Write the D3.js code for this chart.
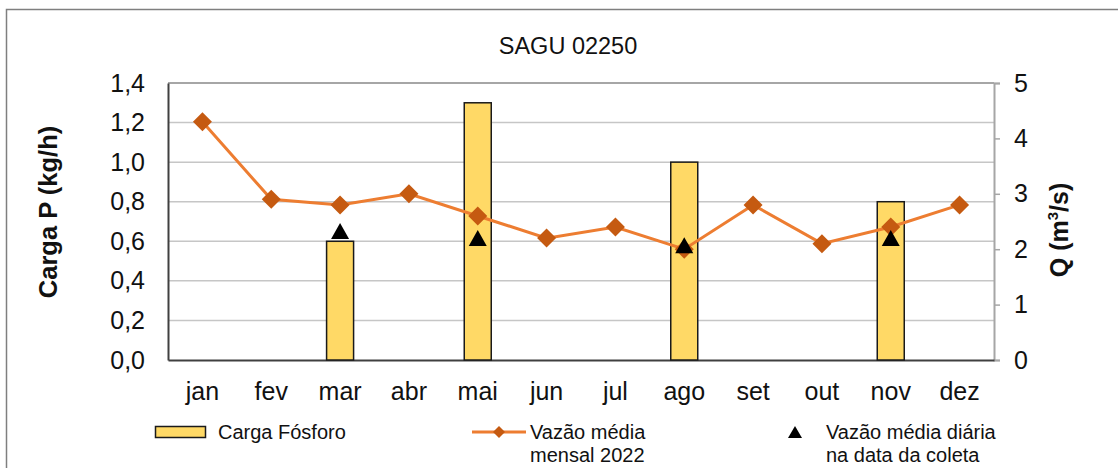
<!DOCTYPE html>
<html>
<head>
<meta charset="utf-8">
<script src="https://cdn.jsdelivr.net/npm/d3@7"></script>
<style>
  body { margin: 0; background: white; }
  svg { display: block; font-family: "Liberation Sans", Arial, sans-serif; }
</style>
</head>
<body>
<div id="chart"></div>
<script>
// data
const months = ["jan", "fev", "mar", "abr", "mai", "jun", "jul", "ago", "set", "out", "nov", "dez"];
const carga_fosforo = [null, null, 0.6, null, 1.3, null, null, 1.0, null, null, 0.8, null];
const vazao_mensal = [4.3, 2.9, 2.8, 3.0, 2.6, 2.2, 2.4, 2.0, 2.8, 2.1, 2.4, 2.8];
const vazao_coleta = [null, null, 2.33, null, 2.2, null, null, 2.07, null, null, 2.2, null];
const left_ticks = [0, 0.2, 0.4, 0.6, 0.8, 1.0, 1.2, 1.4];
const right_ticks = [0, 1, 2, 3, 4, 5];

const ttl_width = 1118, ttl_height = 468;
const plot = {left: 168, right: 994, top: 83, bottom: 360};

const bar_color = "#FFD966", line_color = "#ED7D31", marker_color = "#C55A11";
const font = "Liberation Sans, Arial, sans-serif";

const svg = d3.select("#chart")
  .append("svg")
  .attr("width", ttl_width)
  .attr("height", ttl_height)
;

// outer frame
svg.append("rect")
  .attr("x", 6.5)
  .attr("y", 9.5)
  .attr("width", ttl_width + 20)
  .attr("height", ttl_height + 20)
  .attr("fill", "white")
  .attr("stroke", "#7f7f7f")
  .attr("stroke-width", 1.5)
;

const x = d3.scaleBand().domain(months).range([plot.left, plot.right]);
const y_left = d3.scaleLinear().domain([0, 1.4]).range([plot.bottom, plot.top]);
const y_right = d3.scaleLinear().domain([0, 5]).range([plot.bottom, plot.top]);
const cx = m => x(m) + x.bandwidth() / 2;

// title
svg.append("text")
  .attr("x", 568)
  .attr("y", 54)
  .attr("text-anchor", "middle")
  .attr("font-size", 23.5)
  .attr("fill", "#111")
  .text("SAGU 02250")
;

// gridlines
svg.append("g")
  .selectAll("line")
  .data(left_ticks.filter(d => d > 0))
  .enter()
  .append("line")
  .attr("x1", plot.left)
  .attr("x2", plot.right)
  .attr("y1", d => y_left(d))
  .attr("y2", d => y_left(d))
  .attr("stroke", d => d == 1.4 ? "#a6a6a6" : "#c6c6c6")
  .attr("stroke-width", d => d == 1.4 ? 2 : 1.5)
;

// left axis
const left_axis = svg.append("g")
  .attr("transform", "translate(" + plot.left + ",0)")
  .call(d3.axisLeft(y_left).tickValues(left_ticks).tickSize(0).tickPadding(23).tickFormat(d => d3.format(".1f")(d).replace(".", ",")))
;
left_axis.select(".domain").attr("stroke", "#404040").attr("stroke-width", 2);
left_axis.selectAll("text").attr("font-size", 25).attr("fill", "#111").attr("font-family", font);

// right axis
const right_axis = svg.append("g")
  .attr("transform", "translate(" + plot.right + ",0)")
  .call(d3.axisRight(y_right).tickValues(right_ticks).tickSize(6).tickSizeOuter(6).tickPadding(14).tickFormat(d3.format("d")))
;
right_axis.select(".domain").attr("stroke", "#a6a6a6").attr("stroke-width", 2);
right_axis.selectAll(".tick line").attr("stroke", "#a6a6a6").attr("stroke-width", 1.5);
right_axis.selectAll("text").attr("font-size", 25).attr("fill", "#111").attr("font-family", font);

// bottom axis
const bottom_axis = svg.append("g")
  .attr("transform", "translate(0," + plot.bottom + ")")
  .call(d3.axisBottom(x).tickSize(0).tickPadding(22))
;
bottom_axis.select(".domain").attr("stroke", "#404040").attr("stroke-width", 2);
bottom_axis.selectAll("text").attr("font-size", 25).attr("fill", "#111").attr("font-family", font);

// axis titles
svg.append("text")
  .attr("transform", "translate(57,212) rotate(-90)")
  .attr("text-anchor", "middle")
  .attr("font-size", 25.5)
  .attr("font-weight", "bold")
  .attr("fill", "#111")
  .text("Carga P (kg/h)")
;

const q_title = svg.append("text")
  .attr("transform", "translate(1068,230) rotate(-90)")
  .attr("text-anchor", "middle")
  .attr("font-size", 25)
  .attr("font-weight", "bold")
  .attr("fill", "#111")
;
q_title.append("tspan").text("Q (m");
q_title.append("tspan").attr("font-size", 15).attr("dy", -10).text("3");
q_title.append("tspan").attr("dy", 10).text("/s)");

// bars
const bar_w = 27;
svg.append("g")
  .selectAll("rect")
  .data(months.map((m, i) => ({month: m, value: carga_fosforo[i]})).filter(d => d.value != null))
  .enter()
  .append("rect")
  .attr("x", d => cx(d.month) - bar_w / 2)
  .attr("y", d => y_left(d.value))
  .attr("width", bar_w)
  .attr("height", d => y_left(0) - y_left(d.value))
  .attr("fill", bar_color)
  .attr("stroke", "#1a1a1a")
  .attr("stroke-width", 1.5)
;

// monthly flow line
const line_data = months.map((m, i) => ({month: m, value: vazao_mensal[i]}));
svg.append("path")
  .datum(line_data)
  .attr("fill", "none")
  .attr("stroke", line_color)
  .attr("stroke-width", 3)
  .attr("d", d3.line().x(d => cx(d.month)).y(d => y_right(d.value)))
;

const diamond = "M0,-9.5L9.5,0L0,9.5L-9.5,0Z";
const triangle = "M0,-8L9,8L-9,8Z";

svg.append("g")
  .selectAll("path")
  .data(line_data)
  .enter()
  .append("path")
  .attr("d", diamond)
  .attr("fill", marker_color)
  .attr("transform", d => "translate(" + cx(d.month) + "," + y_right(d.value) + ")")
;

// daily flow on sampling date
svg.append("g")
  .selectAll("path")
  .data(months.map((m, i) => ({month: m, value: vazao_coleta[i]})).filter(d => d.value != null))
  .enter()
  .append("path")
  .attr("d", triangle)
  .attr("fill", "black")
  .attr("transform", d => "translate(" + cx(d.month) + "," + y_right(d.value) + ")")
;

// legend
const legend = svg.append("g").attr("font-size", 20).attr("fill", "#111");

legend.append("rect")
  .attr("x", 155.5).attr("y", 426.5)
  .attr("width", 50).attr("height", 11)
  .attr("fill", bar_color)
  .attr("stroke", "#1a1a1a")
  .attr("stroke-width", 1.5)
;
legend.append("text").attr("x", 218).attr("y", 439).text("Carga Fósforo");

legend.append("line")
  .attr("x1", 472).attr("x2", 526)
  .attr("y1", 432).attr("y2", 432)
  .attr("stroke", line_color)
  .attr("stroke-width", 3)
;
legend.append("path")
  .attr("d", "M0,-6L6,0L0,6L-6,0Z")
  .attr("fill", marker_color)
  .attr("transform", "translate(499,432)")
;
legend.append("text").attr("x", 530).attr("y", 439).text("Vazão média");
legend.append("text").attr("x", 530).attr("y", 462).text("mensal 2022");

legend.append("path")
  .attr("d", "M0,-6L7,6L-7,6Z")
  .attr("fill", "black")
  .attr("transform", "translate(795,432)")
;
legend.append("text").attr("x", 826).attr("y", 439).text("Vazão média diária");
legend.append("text").attr("x", 826).attr("y", 462).text("na data da coleta");
</script>
</body>
</html>
